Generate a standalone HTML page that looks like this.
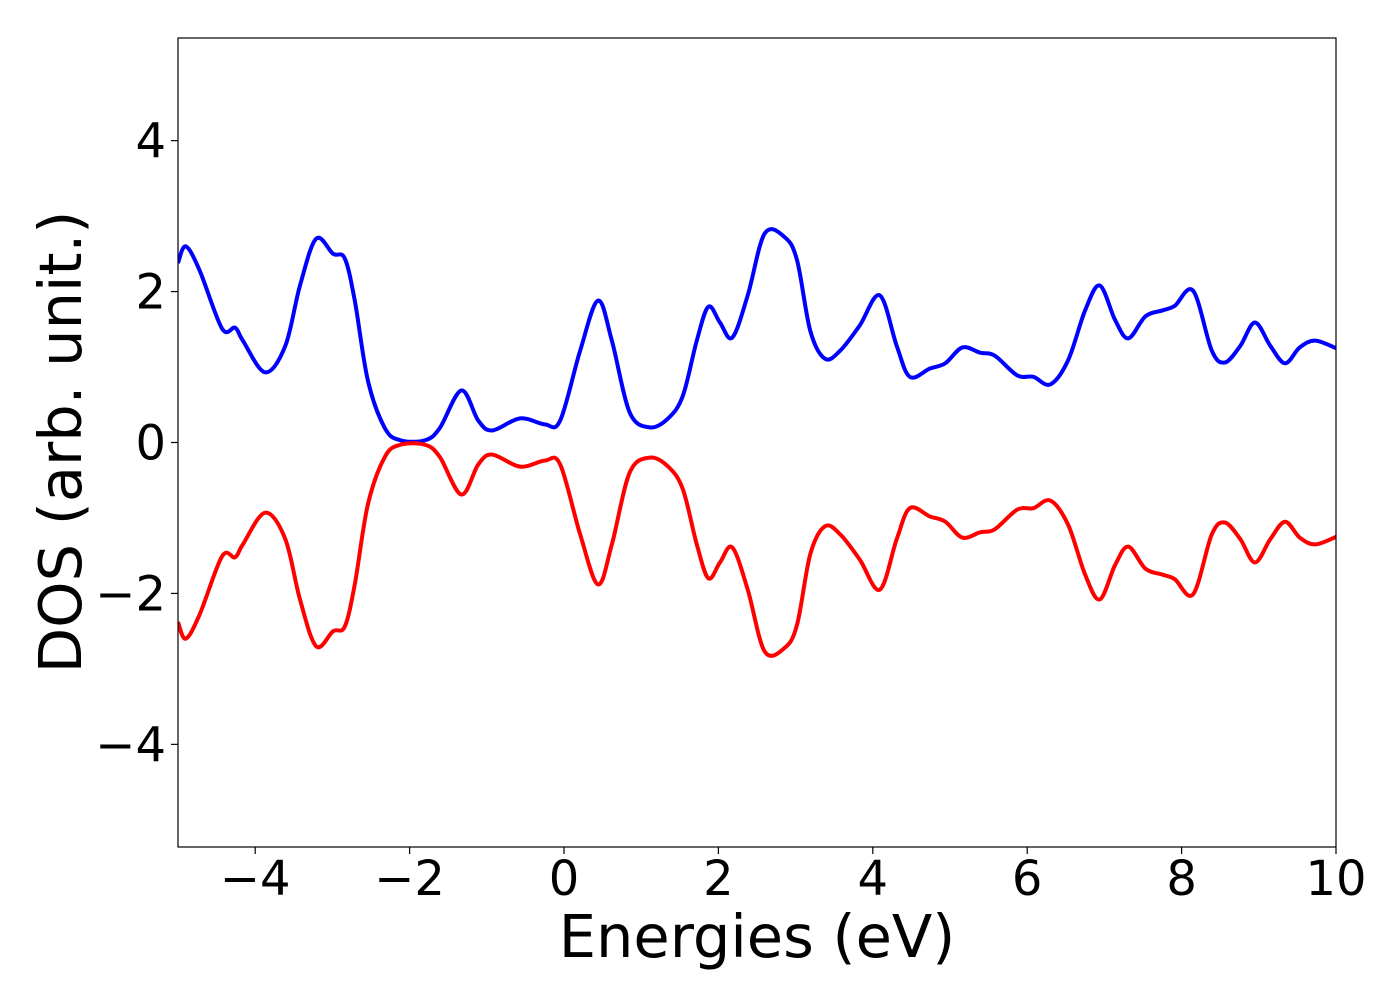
<!DOCTYPE html>
<html><head><meta charset="utf-8"><style>
html,body{margin:0;padding:0;background:#fff;}
svg text{font-family:"DejaVu Sans","Liberation Sans",sans-serif;fill:#000;}
</style></head><body>
<svg id="chart" width="1400" height="1000" xmlns="http://www.w3.org/2000/svg">
<rect x="0" y="0" width="1400" height="1000" fill="#fff"/>
<g id="plot"></g>
<g id="axes"></g>
<text x="757" y="957" text-anchor="middle" font-size="59">Energies (eV)</text>
<text transform="translate(81,442) rotate(-90)" text-anchor="middle" font-size="59">DOS (arb. unit.)</text>
</svg>
<script>
const energies = [-5,-4.9,-4.72,-4.43,-4.26,-4.16,-3.87,-3.61,-3.42,-3.21,-2.99,-2.84,-2.71,-2.54,-2.32,-2.12,-1.8,-1.61,-1.33,-1.11,-0.93,-0.57,-0.25,-0.05,0.21,0.44,0.62,0.85,1.11,1.35,1.54,1.72,1.87,2.02,2.18,2.38,2.6,2.86,3.02,3.19,3.38,3.58,3.83,4.09,4.31,4.48,4.74,4.94,5.16,5.39,5.58,5.87,6.08,6.3,6.53,6.75,6.94,7.14,7.31,7.53,7.75,7.91,8.15,8.39,8.56,8.76,8.95,9.15,9.34,9.53,9.73,10];
const dosUp = [2.38,2.6,2.28,1.51,1.52,1.35,0.93,1.28,2.08,2.7,2.5,2.44,1.88,0.82,0.19,0.03,0.03,0.19,0.69,0.29,0.16,0.32,0.24,0.29,1.22,1.88,1.35,0.4,0.2,0.32,0.62,1.35,1.8,1.59,1.39,1.95,2.77,2.72,2.41,1.48,1.11,1.22,1.55,1.95,1.28,0.87,0.98,1.05,1.26,1.19,1.15,0.89,0.87,0.77,1.09,1.75,2.08,1.62,1.38,1.67,1.75,1.81,2.01,1.22,1.06,1.28,1.59,1.28,1.05,1.26,1.35,1.25];
const dosDown = [-2.38,-2.6,-2.28,-1.51,-1.52,-1.35,-0.93,-1.28,-2.08,-2.7,-2.5,-2.44,-1.88,-0.82,-0.19,-0.03,-0.03,-0.19,-0.69,-0.29,-0.16,-0.32,-0.24,-0.29,-1.22,-1.88,-1.35,-0.4,-0.2,-0.32,-0.62,-1.35,-1.8,-1.59,-1.39,-1.95,-2.77,-2.72,-2.41,-1.48,-1.11,-1.22,-1.55,-1.95,-1.28,-0.87,-0.98,-1.05,-1.26,-1.19,-1.15,-0.89,-0.87,-0.77,-1.09,-1.75,-2.08,-1.62,-1.38,-1.67,-1.75,-1.81,-2.01,-1.22,-1.06,-1.28,-1.59,-1.28,-1.05,-1.26,-1.35,-1.25];
const xTicks = [-4,-2,0,2,4,6,8,10];
const yTicks = [-4,-2,0,2,4];

const L=178,R=1336,T=38,B=847;
const xMin=-5,xMax=10,yMin=-5.36,yMax=5.36;
const sx=v=>L+(v-xMin)/(xMax-xMin)*(R-L);
const sy=v=>B-(v-yMin)/(yMax-yMin)*(B-T);
const NS="http://www.w3.org/2000/svg";
const plot=document.getElementById('plot'), axes=document.getElementById('axes');
const fmt=v=>v<0?'\u2212'+Math.abs(v):String(v);

function pathFor(xs,ys){
  const p=xs.map((x,i)=>[sx(x),sy(ys[i])]);
  let d=`M${p[0][0]},${p[0][1]}`;
  for(let i=0;i<p.length-1;i++){
    const p0=p[i-1]||p[i],p1=p[i],p2=p[i+1],p3=p[i+2]||p[i+1];
    const c1=[p1[0]+(p2[0]-p0[0])/6,p1[1]+(p2[1]-p0[1])/6];
    const c2=[p2[0]-(p3[0]-p1[0])/6,p2[1]-(p3[1]-p1[1])/6];
    d+=` C${c1[0]},${c1[1]} ${c2[0]},${c2[1]} ${p2[0]},${p2[1]}`;
  }
  return d;
}
const clip=document.createElementNS(NS,'clipPath');clip.id='cp';
const cr=document.createElementNS(NS,'rect');
cr.setAttribute('x',L);cr.setAttribute('y',T);cr.setAttribute('width',R-L);cr.setAttribute('height',B-T);
clip.appendChild(cr);document.getElementById('chart').appendChild(clip);
plot.setAttribute('clip-path','url(#cp)');

const up=document.createElementNS(NS,'path');


up.setAttribute('d',pathFor(energies,dosUp));
up.setAttribute('fill','none');up.setAttribute('stroke','#0000ff');up.setAttribute('stroke-width','4');
plot.appendChild(up);
const dn=document.createElementNS(NS,'path');


dn.setAttribute('d',pathFor(energies,dosDown));
dn.setAttribute('fill','none');dn.setAttribute('stroke','#ff0000');dn.setAttribute('stroke-width','4');
plot.appendChild(dn);

const frame=document.createElementNS(NS,'rect');


frame.setAttribute('x',L);frame.setAttribute('y',T);frame.setAttribute('width',R-L);frame.setAttribute('height',B-T);
frame.setAttribute('fill','none');frame.setAttribute('stroke','#000');frame.setAttribute('stroke-width','1.2');
axes.appendChild(frame);

xTicks.forEach(v=>{
  const x=sx(v);
  const t=document.createElementNS(NS,'line');
  
  
  t.setAttribute('x1',x);t.setAttribute('x2',x);t.setAttribute('y1',B);t.setAttribute('y2',B+7);t.setAttribute('stroke','#000');t.setAttribute('stroke-width','1.2');
  axes.appendChild(t);
  const l=document.createElementNS(NS,'text');
  
  
  l.setAttribute('x',x);l.setAttribute('y',895);l.setAttribute('text-anchor','middle');l.setAttribute('font-size','48');
  l.textContent=fmt(v);axes.appendChild(l);
});
yTicks.forEach(v=>{
  const y=sy(v);
  const t=document.createElementNS(NS,'line');
  
  
  t.setAttribute('x1',L-7);t.setAttribute('x2',L);t.setAttribute('y1',y);t.setAttribute('y2',y);t.setAttribute('stroke','#000');t.setAttribute('stroke-width','1.2');
  axes.appendChild(t);
  const l=document.createElementNS(NS,'text');
  
  
  l.setAttribute('x',166);l.setAttribute('y',y+17);l.setAttribute('text-anchor','end');l.setAttribute('font-size','48');
  l.textContent=fmt(v);axes.appendChild(l);
});
</script>
</body></html>
